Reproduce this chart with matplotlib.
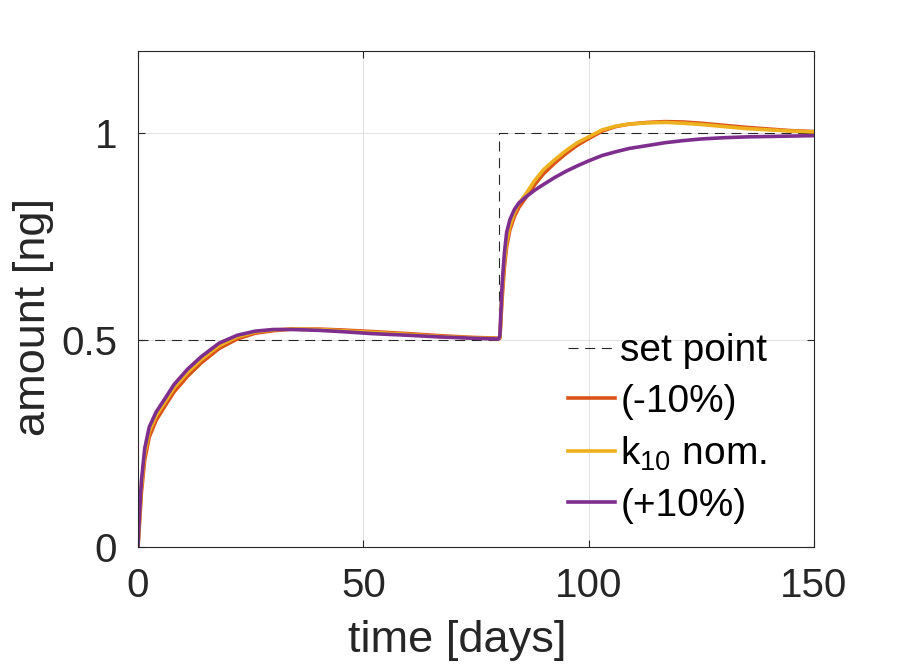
import matplotlib
matplotlib.use("Agg")
import matplotlib.pyplot as plt

plt.rcParams['font.family'] = ['Liberation Sans', 'DejaVu Sans']
plt.rcParams['mathtext.fontset'] = 'custom'
plt.rcParams['mathtext.rm'] = 'Liberation Sans'
plt.rcParams['mathtext.it'] = 'Liberation Sans:italic'

# ---- data ----
t = [0, 0.25, 0.75, 1.5, 2.5, 4, 6, 8, 11, 14, 18, 22, 26, 30, 34, 40, 45, 52, 60, 67, 74, 80,
     80.3, 80.8, 81.3, 81.8, 82.5, 83.5, 84.5, 86, 88, 90, 92.5, 95, 97.5, 100, 103, 106, 109,
     113, 117, 121, 125, 130, 135, 140, 145, 150]

minus10 = [0, 0.04, 0.13, 0.21, 0.265, 0.305, 0.340, 0.374, 0.412, 0.444, 0.479, 0.502, 0.516,
           0.522, 0.526, 0.526, 0.524, 0.520, 0.515, 0.510, 0.506, 0.504,
           0.504, 0.60, 0.675, 0.725, 0.765, 0.798, 0.82, 0.843, 0.875, 0.902, 0.928, 0.951,
           0.971, 0.987, 1.005, 1.016, 1.022, 1.026, 1.028, 1.027, 1.024, 1.019, 1.014, 1.010,
           1.006, 1.004]

nominal = [0, 0.05, 0.145, 0.225, 0.278, 0.316, 0.350, 0.384, 0.421, 0.452, 0.486, 0.507, 0.519,
           0.524, 0.526, 0.525, 0.522, 0.518, 0.513, 0.508, 0.505, 0.503,
           0.505, 0.62, 0.69, 0.737, 0.775, 0.807, 0.83, 0.852, 0.885, 0.912, 0.936, 0.958,
           0.977, 0.991, 1.008, 1.017, 1.022, 1.025, 1.026, 1.024, 1.021, 1.016, 1.011, 1.008,
           1.005, 1.003]

plus10 = [0, 0.06, 0.158, 0.238, 0.289, 0.325, 0.358, 0.392, 0.429, 0.459, 0.492, 0.511, 0.521,
          0.525, 0.525, 0.523, 0.520, 0.515, 0.511, 0.507, 0.504, 0.502,
          0.51, 0.635, 0.71, 0.76, 0.79, 0.815, 0.831, 0.845, 0.862, 0.876, 0.893, 0.908,
          0.921, 0.933, 0.946, 0.955, 0.963, 0.970, 0.977, 0.982, 0.986, 0.989, 0.991, 0.992,
          0.993, 0.994]

t_sp = [0, 80, 80, 150]
setpoint = [0.5, 0.5, 1.0, 1.0]

labels = ['set point', '(-10%)', 'k$_{10}$ nom.', '(+10%)']
colors = ['#D95319', '#EDB120', '#7E2F8E']

xticks = [0, 50, 100, 150]
yticks = [0, 0.5, 1]
yticklabels = ['0', '0.5', '1']

# ---- figure ----
fig = plt.figure(figsize=(9, 6.67), dpi=100)
ax = fig.add_axes([138/900, 1 - 546.5/667, (814-138)/900, (546.5-50.5)/667])

axcol = '#262626'
ax.plot(t_sp, setpoint, color=axcol, lw=0.8, linestyle=(0, (9, 6)), label=labels[0])
ax.plot(t, minus10, color=colors[0], lw=2.6, label=labels[1])
ax.plot(t, nominal, color=colors[1], lw=2.6, label=labels[2])
ax.plot(t, plus10, color=colors[2], lw=2.6, label=labels[3])

ax.set_xlim(0, 150)
ax.set_ylim(0, 1.2)
ax.set_xticks(xticks)
ax.set_xticklabels([str(x) for x in xticks])
ax.set_yticks(yticks)
ax.set_yticklabels(yticklabels)
ax.grid(True, color='#dcdcdc', lw=0.6)
ax.set_axisbelow(True)

for s in ax.spines.values():
    s.set_color(axcol)
    s.set_linewidth(0.8)
ax.tick_params(direction='in', length=5, width=0.8, colors=axcol, labelsize=29,
               top=True, right=True)
ax.tick_params(axis='x', pad=15)
ax.tick_params(axis='y', pad=15)

ax.set_xlabel('time [days]', fontsize=32.5, color=axcol)
ax.set_ylabel('amount [ng]', fontsize=32.5, color=axcol)
ax.xaxis.label.set_va('center')
ax.yaxis.label.set_va('center')
ax.xaxis.set_label_coords(0.472, -0.19)
ax.yaxis.set_label_coords(-0.154, 0.463)

leg = ax.legend(loc='upper left', bbox_to_anchor=(0.636, 0.43), frameon=False,
                fontsize=28, handlelength=1.2, handletextpad=0.15, borderpad=0,
                borderaxespad=0, labelspacing=0.38)
for txt in leg.get_texts():
    txt.set_color('black')

fig.savefig('out.png', dpi=100)
